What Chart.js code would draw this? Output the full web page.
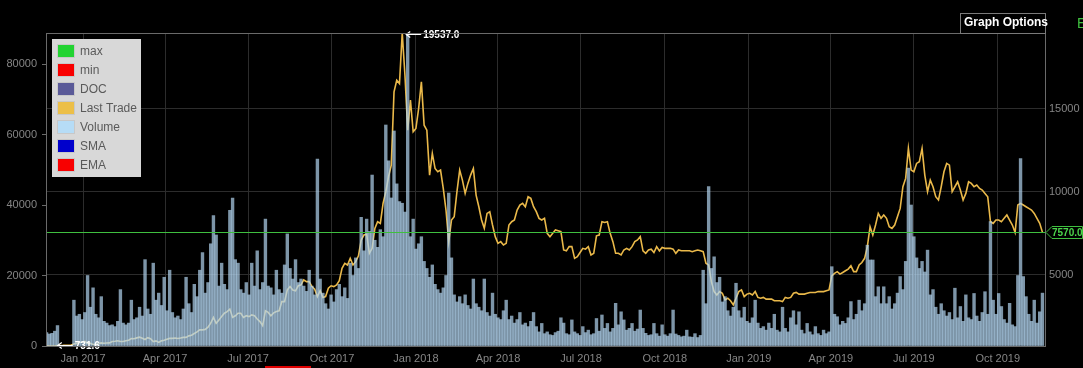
<!DOCTYPE html>
<html>
<head>
<meta charset="utf-8">
<title>Last Trade / Volume</title>
<script src="https://cdn.jsdelivr.net/npm/chart.js@4.4.1/dist/chart.umd.min.js"></script>
<style>
  html, body { margin: 0; padding: 0; background: #000; }
  canvas { display: block; }
</style>
</head>
<body>
<canvas id="chart" width="1083" height="368"></canvas>
<script>
  'use strict';

  // Days are counted from 1 Jan 2017, one sample every 3 days
  const firstDay = -40;
  const stepDays = 3;

  // Last trade price (right axis)
  const lastTrade = [
    740, 735, 733, 731.6, 760, 765, 770, 780, 780, 790,
    850, 890, 960, 960, 1010, 900, 900, 820, 820, 880,
    920, 900, 910, 920, 1000, 1020, 1050, 1000, 1000, 1050,
    1080, 1180, 1170, 1220, 1260, 1200, 1120, 1230, 1170, 1000,
    1040, 950, 1040, 1080, 1140, 1190, 1190, 1210, 1180, 1210,
    1250, 1250, 1340, 1380, 1480, 1580, 1700, 1700, 1730, 1860,
    2100, 2450, 2100, 2300, 2500, 2700, 2800, 2950, 2450, 2550,
    2700, 2700, 2450, 2550, 2500, 2600, 2550, 2350, 2200, 1950,
    2850, 2750, 2550, 2720, 2800, 2850, 3400, 3400, 4100, 4300,
    4100, 4050, 4350, 4400, 4700, 4600, 4600, 4300, 4150, 3700,
    4050, 3650, 3700, 4200, 4350, 4300, 4400, 4650, 5400, 5700,
    5600, 6000, 5600, 5800, 6150, 7100, 7400, 7450, 6300, 6600,
    7800, 8200, 8100, 9300, 10000, 10900, 11600, 16000, 16700, 16500,
    19537, 17000, 13700, 15500, 13600, 13800, 15000, 16600, 14000, 13700,
    11000, 12300, 11400, 11200, 11300, 10200, 8900, 7000, 8300, 8500,
    10000, 11300, 10700, 9900, 10500, 11000, 11400, 9800, 9100, 8300,
    7800, 8700, 8800, 8000, 7300, 6900, 7000, 6800, 6900, 8000,
    8200, 8300, 8900, 9200, 9300, 9100, 9700, 9600, 9100, 8800,
    8400, 8300, 8400, 7500, 7300, 7500, 7700, 7650, 7600, 6500,
    6450, 6700, 6700, 6000, 6100, 6350, 6600, 6550, 6700, 6200,
    6300, 7350, 7400, 8200, 8150, 8200, 7500, 7000, 6300, 6300,
    6200, 6500, 6600, 6500, 6700, 7000, 7100, 7300, 6450, 6300,
    6500, 6550, 6350, 6700, 6450, 6650, 6600, 6600, 6600, 6550,
    6300, 6500, 6450, 6450, 6450, 6450, 6400, 6450, 6500, 6450,
    6400, 5700, 5600, 4600, 4000, 3800, 4000, 3900, 3500, 3600,
    3450, 3200, 3600, 4000, 4100, 3700, 3850, 3900, 3800, 4000,
    3650, 3600, 3650, 3550, 3550, 3550, 3450, 3450, 3450, 3400,
    3650, 3600, 3650, 3900, 3950, 3850, 3850, 3850, 3900, 3950,
    3950, 3950, 4000, 4000, 4000, 4050, 4100, 4950, 5100, 5200,
    5050, 5150, 5250, 5350, 5550, 5200, 5200, 5600, 5750, 6000,
    6700, 7900, 7400, 8000, 8700, 8400, 8600, 8400, 7900, 7800,
    8000, 8500, 9000, 10300, 10800, 12600, 11300, 11200, 11700, 11800,
    12600, 11000, 10000, 10700, 10300, 9700, 9500, 10300, 11200, 11700,
    11600, 10000, 10300, 10600, 10100, 9500, 9900, 10600, 10500, 10300,
    10400, 10200, 10100, 9900, 9700, 8200, 8100, 8300, 8300, 8200,
    8400, 8600, 8300, 8000, 7550, 9200, 9300, 9200, 9100, 9000,
    8900, 8700, 8400, 8100, 7570
  ];

  // Traded volume (left axis)
  const volume = [
    3800, 3400, 3600, 4200, 5800, 0, 0, 0, 0, 0,
    13000, 8500, 9000, 7500, 9500, 20000, 11000, 16500, 9000, 8000,
    14000, 7000, 6500, 5800, 6000, 5500, 7000, 16000, 6500, 6000,
    6500, 13000, 7500, 8000, 11000, 8500, 24500, 10500, 9000, 23500,
    13000, 15000, 11500, 19500, 10000, 21500, 9500, 8000, 8500, 7500,
    10500, 19500, 12000, 9500, 17500, 14000, 21500, 26500, 15000, 18000,
    29000, 37000, 31500, 17000, 23500, 17500, 16000, 38500, 42000, 24500,
    23500, 16000, 15000, 18000, 14500, 23500, 17000, 27000, 16000, 18000,
    36000, 17000, 16500, 14500, 21500, 16000, 15000, 23000, 31800, 22000,
    19000, 24500, 18000, 19000, 17000, 15500, 21500, 17000, 14500, 53000,
    19000, 15000, 12000, 10500, 14500, 12500, 16000, 17500, 14000, 16500,
    13500, 23500, 20000, 25000, 22000, 36500, 27000, 36000, 32500, 48500,
    30000, 28000, 33000, 31000, 62700, 52500, 42000, 61000, 46000, 41000,
    40500, 38000, 88700, 31000, 36000, 27500, 29000, 31000, 24000, 22000,
    19500, 23000, 17500, 16000, 15000, 16500, 20000, 43400, 25000, 14500,
    12500, 14000, 12000, 14500, 11500, 10500, 19000, 12000, 11000, 10000,
    19000, 9500, 8500, 15000, 9000, 8000, 7500, 10000, 13000, 7500,
    8500, 6500, 7500, 9500, 6000, 6500, 5500, 7000, 9500, 5500,
    4000, 6400, 3500, 4000, 3200, 3000, 3800, 4200, 8000, 6500,
    3500, 3200, 7400, 4000, 3500, 3000, 5500, 3800, 4500, 3200,
    3500, 7800, 4200, 8800, 5000, 6400, 4000, 5000, 12100, 6000,
    9700, 7400, 4500, 5000, 6400, 4200, 4800, 10200, 5000, 3600,
    3000, 3200, 6400, 3500, 2800, 6000, 3200, 2800, 3500, 10200,
    3400, 3000, 2600, 2800, 4500, 2600, 2500, 3500, 2400, 3000,
    21500, 12000, 45200, 22000, 25300, 18000, 19500, 12500, 14000, 10000,
    8500, 11000, 17800, 10000, 8000, 11000, 7000, 6500, 8000, 13000,
    6500, 5000, 5500, 4500, 6500, 5000, 9000, 4500, 4000, 11000,
    5000, 4000, 8000, 10000, 6000, 9700, 4500, 3500, 6400, 4000,
    3200, 5500, 3500, 3000, 4500, 3500, 4000, 22500, 9000, 8300,
    6000, 7000, 6400, 8000, 12600, 7500, 9000, 13000, 10000, 12000,
    28600, 24400, 24400, 14000, 16800, 12000, 16800, 12000, 14000, 10500,
    12000, 15000, 19700, 16000, 24000, 50500, 40000, 31000, 25000, 22000,
    24000, 21000, 27200, 14500, 16000, 11000, 9000, 12000, 10000, 8500,
    9500, 7500, 16400, 8000, 11200, 7000, 14500, 8000, 7500, 14900,
    8500, 7000, 9500, 15400, 9000, 35300, 13000, 9000, 14900, 11200,
    7500, 6500, 12100, 6000, 5500, 20000, 53200, 19700, 14000, 9000,
    7000, 13000, 6500, 9700, 15000
  ];

  // Axis ticks
  const tickDays = [0, 90, 181, 273, 365, 455, 546, 638, 730, 820, 911, 1003];
  const tickLabels = ['Jan 2017', 'Apr 2017', 'Jul 2017', 'Oct 2017', 'Jan 2018', 'Apr 2018',
    'Jul 2018', 'Oct 2018', 'Jan 2019', 'Apr 2019', 'Jul 2019', 'Oct 2019'];
  const volumeTicks = [0, 20000, 40000, 60000, 80000];
  const priceTicks = [5000, 10000, 15000];

  // Legend entries
  const legendNames = ['max', 'min', 'DOC', 'Last Trade', 'Volume', 'SMA', 'EMA'];
  const legendColors = ['#22d332', '#f80000', '#5a5a98', '#ecbf48', '#b6dcf6', '#0000cc', '#f80000'];

  const days = lastTrade.map((v, i) => firstDay + stepDays * i);
  const priceMax = Math.max(...lastTrade);
  const priceMin = Math.min(...lastTrade);
  const priceLast = lastTrade[lastTrade.length - 1];

  const FONT = 'Arial, "Liberation Sans", sans-serif';
  const labelColor = '#858585';
  const gridColor = '#2c2c2c';

  function drawArrowLabel(ctx, x, y, text) {
    ctx.save();
    ctx.strokeStyle = '#fff';
    ctx.lineWidth = 1.2;
    ctx.beginPath();
    ctx.moveTo(x, y);
    ctx.lineTo(x + 15, y);
    ctx.moveTo(x + 4, y - 3);
    ctx.lineTo(x, y);
    ctx.lineTo(x + 4, y + 3);
    ctx.stroke();
    ctx.fillStyle = '#fff';
    ctx.font = 'bold 10px ' + FONT;
    ctx.textBaseline = 'middle';
    ctx.textAlign = 'left';
    ctx.fillText(text, x + 17, y + 0.5);
    ctx.restore();
  }

  const decorPlugin = {
    id: 'decor',
    afterDatasetsDraw(chart) {
      const ctx = chart.ctx;
      const area = chart.chartArea;
      const yP = chart.scales.y1;
      const xS = chart.scales.x;

      // current price line
      const yLast = Math.round(yP.getPixelForValue(priceLast)) + 0.5;
      ctx.save();
      ctx.strokeStyle = '#3fbf3f';
      ctx.lineWidth = 1;
      ctx.beginPath();
      ctx.moveTo(area.left, yLast);
      ctx.lineTo(area.right, yLast);
      ctx.stroke();
      ctx.restore();

      // max / min markers
      const iMax = lastTrade.indexOf(priceMax);
      const iMin = lastTrade.indexOf(priceMin);
      drawArrowLabel(ctx, xS.getPixelForValue(days[iMax]) + 4, yP.getPixelForValue(priceMax) + 1.5, priceMax.toFixed(1));
      drawArrowLabel(ctx, xS.getPixelForValue(days[iMin]) + 3, yP.getPixelForValue(priceMin) - 0.5, String(priceMin));
    },
    afterDraw(chart) {
      const ctx = chart.ctx;
      const area = chart.chartArea;
      const yP = chart.scales.y1;

      ctx.save();
      // plot frame
      ctx.strokeStyle = '#6a6a6a';
      ctx.lineWidth = 1;
      ctx.strokeRect(Math.round(area.left) - 0.5, Math.round(area.top) + 0.5,
        Math.round(area.right - area.left) + 1, Math.round(area.bottom - area.top));

      // last price tag on the right axis
      const yLast = Math.round(yP.getPixelForValue(priceLast)) + 0.5;
      const x0 = area.right + 1;
      ctx.beginPath();
      ctx.moveTo(x0, yLast);
      ctx.lineTo(x0 + 6, yLast - 6);
      ctx.lineTo(1082.5, yLast - 6);
      ctx.lineTo(1082.5, yLast + 6);
      ctx.lineTo(x0 + 6, yLast + 6);
      ctx.closePath();
      ctx.fillStyle = '#000';
      ctx.fill();
      ctx.strokeStyle = '#3fbf3f';
      ctx.stroke();
      ctx.fillStyle = '#4cd64c';
      ctx.font = 'bold 10px ' + FONT;
      ctx.textBaseline = 'middle';
      ctx.textAlign = 'left';
      ctx.fillText(priceLast.toFixed(1), x0 + 6, yLast + 0.5);

      // legend box
      const lx = area.left + 5, ly = area.top + 6;
      ctx.fillStyle = '#d8d8d8';
      ctx.fillRect(lx, ly, 89, 138);
      legendNames.forEach((name, i) => {
        const cy = ly + 12 + i * 19;
        ctx.fillStyle = '#c8c8c8';
        ctx.fillRect(lx + 5, cy - 7, 18, 14);
        ctx.fillStyle = legendColors[i];
        ctx.fillRect(lx + 6, cy - 6, 16, 12);
        ctx.fillStyle = '#5a5a5a';
        ctx.font = '12px ' + FONT;
        ctx.textBaseline = 'middle';
        ctx.fillText(name, lx + 28, cy + 0.5);
      });

      // "Graph Options" tab
      ctx.strokeStyle = '#7a7a7a';
      ctx.strokeRect(960.5, 13.5, 85, 20);
      ctx.fillStyle = '#fff';
      ctx.font = 'bold 12px ' + FONT;
      ctx.textBaseline = 'middle';
      ctx.fillText('Graph Options', 964, 23);

      // page bits around the chart
      ctx.fillStyle = '#3fbf3f';
      ctx.font = '14px ' + FONT;
      ctx.fillText('E', 1077, 24);
      ctx.fillStyle = '#e00000';
      ctx.fillRect(265, 366, 46, 2);
      ctx.restore();
    }
  };

  const ctx = document.getElementById('chart');
  const chart = new Chart(ctx, {
    type: 'bar',
    data: {
      datasets: [
        {
          type: 'bar',
          label: 'Volume',
          data: days.map((d, i) => ({ x: d, y: volume[i] })),
          yAxisID: 'y',
          backgroundColor: 'rgba(178, 212, 240, 0.7)',
          borderWidth: 0,
          barPercentage: 1,
          categoryPercentage: 1,
          order: 0
        },
        {
          type: 'line',
          label: 'Last Trade',
          data: days.map((d, i) => ({ x: d, y: lastTrade[i] })),
          yAxisID: 'y1',
          borderColor: '#eab94a',
          borderWidth: 1.6,
          pointRadius: 0,
          tension: 0,
          order: 1
        }
      ]
    },
    options: {
      responsive: false,
      animation: false,
      layout: { padding: { top: 33, left: 0, right: 0, bottom: 0 } },
      plugins: {
        legend: { display: false },
        tooltip: { enabled: false }
      },
      scales: {
        x: {
          type: 'linear',
          min: -39.5,
          max: 1054.8,
          offset: false,
          grid: { color: gridColor, drawTicks: false, offset: false },
          border: { display: false },
          ticks: {
            color: labelColor,
            font: { family: FONT, size: 11 },
            padding: 6,
            maxRotation: 0,
            autoSkip: false,
            callback: (v) => tickLabels[tickDays.indexOf(v)] || ''
          },
          afterBuildTicks: (s) => { s.ticks = tickDays.map(v => ({ value: v })); },
          afterFit: (s) => { s.height = 22; }
        },
        y: {
          position: 'left',
          min: 0,
          max: 88800,
          grid: { drawOnChartArea: false, color: '#6a6a6a', tickLength: 5 },
          border: { display: false },
          ticks: {
            color: labelColor,
            font: { family: FONT, size: 11 },
            padding: 5,
            callback: (v) => String(v)
          },
          afterBuildTicks: (s) => { s.ticks = volumeTicks.map(v => ({ value: v })); },
          afterFit: (s) => { s.width = 47; }
        },
        y1: {
          position: 'right',
          min: priceMin,
          max: priceMax,
          grid: { color: gridColor, drawTicks: false },
          border: { display: false },
          ticks: {
            color: labelColor,
            font: { family: FONT, size: 11 },
            padding: 4,
            callback: (v) => String(v)
          },
          afterBuildTicks: (s) => { s.ticks = priceTicks.map(v => ({ value: v })); },
          afterFit: (s) => { s.width = 38; }
        }
      }
    },
    plugins: [decorPlugin]
  });
</script>
</body>
</html>
